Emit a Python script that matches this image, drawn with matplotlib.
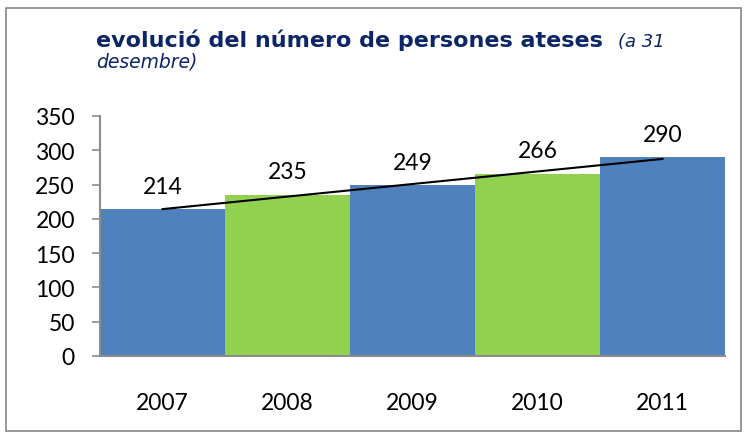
import matplotlib
matplotlib.use("Agg")
import matplotlib.pyplot as plt
from matplotlib.patches import Rectangle
import numpy as np

# dades del gràfic
years = ["2007", "2008", "2009", "2010", "2011"]
persones = [214, 235, 249, 266, 290]
bar_colors = ["#4F81BD", "#92D050", "#4F81BD", "#92D050", "#4F81BD"]
y_ticks = [0, 50, 100, 150, 200, 250, 300, 350]

TITLE_COLOR = "#0B2566"
AXIS_GRAY = "#8C8C8C"
NUM_FONT = "Lato"
NUM_SIZE = 16.5

fig = plt.figure(figsize=(7.48, 4.39), dpi=100)
ax = fig.add_axes([100 / 748, 1 - 357 / 439, 625 / 748, 240 / 439])

x = np.arange(len(years))
ax.bar(x, persones, width=1.0, color=bar_colors, edgecolor="none")

# línia de tendència lineal
slope, intercept = np.polyfit(x, persones, 1)
ax.plot([x[0], x[-1]], [intercept + slope * x[0], intercept + slope * x[-1]],
        color="black", lw=1.5)

# etiquetes de dades
for xi, v in zip(x, persones):
    ax.annotate(str(v), (xi, v), xytext=(0, 9), textcoords="offset points",
                ha="center", va="bottom", fontsize=NUM_SIZE, family=NUM_FONT)

ax.set_xlim(-0.5, len(years) - 0.5)
ax.set_ylim(0, 350)
ax.set_yticks(y_ticks)
ax.set_yticklabels([str(t) for t in y_ticks], fontsize=NUM_SIZE, family=NUM_FONT)
ax.set_xticks(x)
ax.set_xticklabels(years, fontsize=NUM_SIZE, family=NUM_FONT)
ax.tick_params(axis="x", length=0, pad=26)
ax.tick_params(axis="y", length=6, width=1.2, color=AXIS_GRAY, pad=12)

for side in ["top", "right"]:
    ax.spines[side].set_visible(False)
for side in ["left", "bottom"]:
    ax.spines[side].set_color(AXIS_GRAY)
    ax.spines[side].set_linewidth(1.5)

# títol
fig.text(96 / 748, 1 - 47 / 439, "evolució del número de persones ateses",
         fontsize=16.0, fontweight="bold", color=TITLE_COLOR,
         family="DejaVu Sans", ha="left", va="baseline")
fig.text(618 / 748, 1 - 47 / 439, "(a 31", fontsize=13, style="italic",
         color=TITLE_COLOR, family="DejaVu Sans", ha="left", va="baseline")
fig.text(96 / 748, 1 - 68 / 439, "desembre)", fontsize=13.5, style="italic",
         color=TITLE_COLOR, family="DejaVu Sans", ha="left", va="baseline")

# marc de la figura
fig.patches.append(Rectangle((6 / 748, 7 / 439), 735 / 748, 423 / 439,
                             transform=fig.transFigure, fill=False,
                             edgecolor="#888888", lw=1.2))

fig.savefig("out.png", dpi=100)
